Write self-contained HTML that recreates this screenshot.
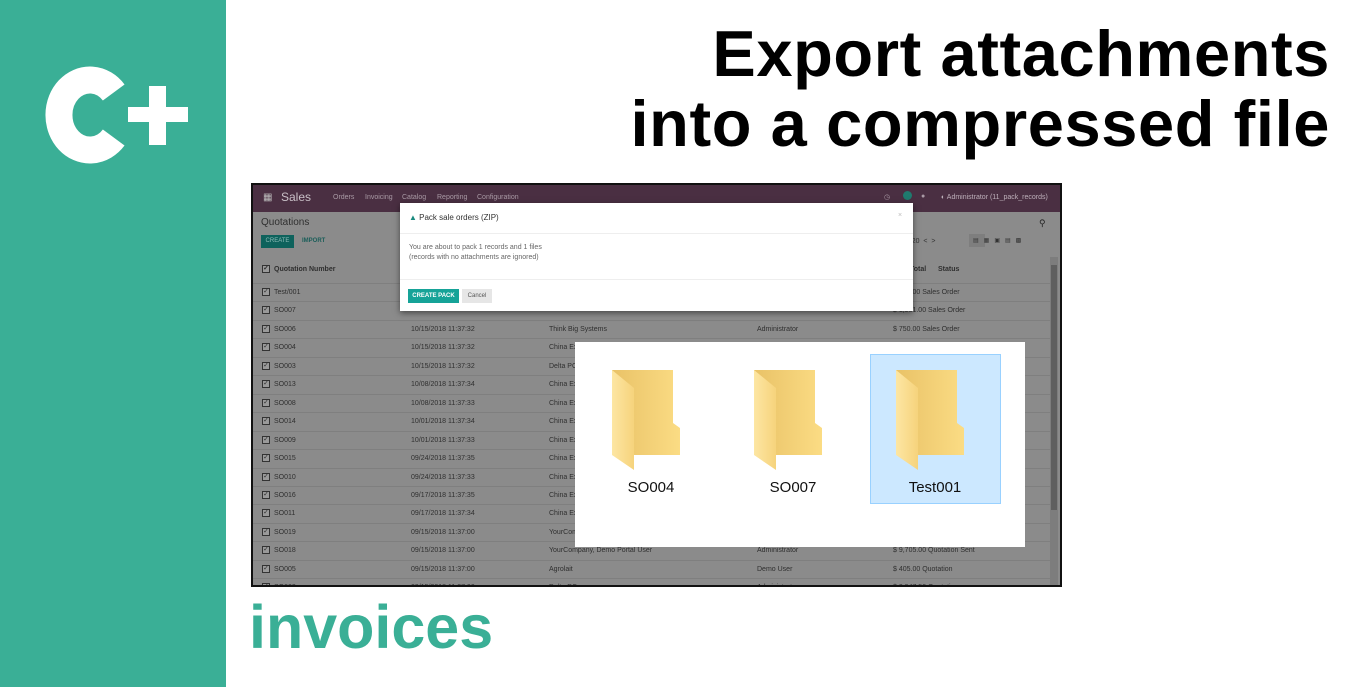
<!DOCTYPE html>
<html><head><meta charset="utf-8"><style>
*{margin:0;padding:0;box-sizing:border-box}
body{width:1360px;height:687px;background:#fff;position:relative;overflow:hidden;font-family:"Liberation Sans",sans-serif}
.side{position:absolute;left:0;top:0;width:226px;height:687px;background:#3aaf96}
.abs{position:absolute}
.title{position:absolute;right:30px;text-align:right;font-weight:bold;font-size:65px;color:#000;white-space:nowrap;letter-spacing:0.6px}
.shot{position:absolute;left:251px;top:183px;width:811px;height:404px;border:2px solid #111;background:#8b8b8b;overflow:hidden}
.nav{position:absolute;left:0;top:0;width:100%;height:27px;background:#4a2f42;color:#a99aa5;font-size:7px}
.row{position:absolute;left:0;width:800px;height:18.5px;border-top:1px solid #7f7f7f;font-size:7px;color:#2f2f2f}
.row span{position:absolute;top:5px;white-space:nowrap}
.cb{position:absolute;left:9px;top:4px;width:8px;height:8px;border:1px solid #333;background:#9a9a9a;font-size:7px;line-height:6px;text-align:center}
.modal{position:absolute;left:147px;top:18px;width:513px;height:108px;background:#fff;box-shadow:0 2px 6px rgba(0,0,0,.5);font-size:7px;color:#666}
.panel{position:absolute;left:575px;top:342px;width:450px;height:205px;background:#fff}
.lbl{position:absolute;font-size:15px;color:#111;width:130px;text-align:center}
</style></head><body>
<div class="side"></div>
<svg class="abs" style="left:0;top:0" width="226" height="200">
 <path d="M113.7 92.5 A31 35 0 1 0 113.7 137.5" fill="none" stroke="#fff" stroke-width="27"/>
 <rect x="128" y="107" width="60" height="15" fill="#fff"/>
 <rect x="149" y="86" width="17" height="59" fill="#fff"/>
</svg>

<div class="title" style="top:19px;line-height:70px">Export attachments</div>
<div class="title" style="top:89px;line-height:70px">into a compressed file</div>
<div class="abs" style="left:249px;top:590px;font-weight:bold;font-size:61px;line-height:74px;color:#3aaf96">invoices</div>

<div class="shot">
 <div class="nav">
  <span class="abs" style="left:10px;top:7px;font-size:10px;color:#bbb">&#9638;</span>
  <span class="abs" style="left:28px;top:5px;font-size:12px;color:#c9c0c7">Sales</span>
  <span class="abs" style="left:80px;top:9px">Orders</span>
  <span class="abs" style="left:112px;top:9px">Invoicing</span>
  <span class="abs" style="left:149px;top:9px">Catalog</span>
  <span class="abs" style="left:184px;top:9px">Reporting</span>
  <span class="abs" style="left:224px;top:9px">Configuration</span>
  <span class="abs" style="left:631px;top:8px">&#9719;</span>
  <span class="abs" style="left:650px;top:6px;width:9px;height:9px;border-radius:50%;background:#1f7a6e"></span>
  <span class="abs" style="left:668px;top:8px">&#9679;</span>
  <span class="abs" style="left:688px;top:9px;color:#bdb0ba">&#9680; Administrator (11_pack_records)</span>
 </div>
 <span class="abs" style="left:8px;top:32px;font-size:10px;color:#2f2f2f">Quotations</span>
 <span class="abs" style="left:8px;top:50px;width:33px;height:13px;background:#0e625c;color:#8fbcb7;font-size:6px;line-height:13px;text-align:center">CREATE</span>
 <span class="abs" style="left:49px;top:53px;font-size:6px;color:#1b5e59;font-weight:bold">IMPORT</span>
 <span class="abs" style="left:786px;top:33px;font-size:9px;color:#222">&#9906;</span>
 <span class="abs" style="left:649px;top:53px;font-size:7px;color:#333">0 / 20 &nbsp;&lt; &nbsp;&gt;</span>
 <span class="abs" style="left:716px;top:49px;width:16px;height:13px;background:#7e7e7e"></span>
 <span class="abs" style="left:720px;top:52px;font-size:6px;color:#333">&#9636; &nbsp; &#9638; &nbsp; &#9635; &nbsp; &#9636; &nbsp; &#9641;</span>
 <div class="row" style="top:72px;border-top:none;height:26px;font-weight:bold"><div class="cb" style="top:8px">&#10003;</div><span style="left:21px;top:9px">Quotation Number</span><span style="left:657px;top:9px">Total</span><span style="left:685px;top:9px">Status</span></div>
 <div id="rows"></div>
 <div class="abs" style="left:797px;top:72px;width:8px;height:330px;background:#7d7d7d"></div>
 <div class="abs" style="left:798px;top:80px;width:6px;height:245px;background:#5f5f5f"></div>
 <div class="modal">
  <span class="abs" style="left:9px;top:10px;font-size:8px;color:#333"><span style="color:#1a8a7f">&#9650;</span> Pack sale orders (ZIP)</span>
  <span class="abs" style="left:498px;top:9px;color:#bbb">×</span>
  <div class="abs" style="left:0;top:30px;width:100%;border-top:1px solid #eee"></div>
  <span class="abs" style="left:9px;top:41px">You are about to pack 1 records and 1 files</span>
  <span class="abs" style="left:9px;top:51px">(records with no attachments are ignored)</span>
  <div class="abs" style="left:0;top:76px;width:100%;border-top:1px solid #eee"></div>
  <span class="abs" style="left:8px;top:86px;width:51px;height:14px;background:#16a398;color:#fff;font-size:6px;font-weight:bold;line-height:14px;text-align:center">CREATE PACK</span>
  <span class="abs" style="left:62px;top:86px;width:30px;height:14px;background:#e6e6e6;color:#555;font-size:6px;line-height:14px;text-align:center">Cancel</span>
 </div>
</div>

<div class="panel">
 <div class="abs" style="left:295px;top:12px;width:131px;height:150px;background:#cce8ff;border:1px solid #99d1ff"></div>
</div>
<svg class="abs" style="left:0;top:0" width="1360" height="687">
 <defs>
  <linearGradient id="bk" x1="0" x2="1"><stop offset="0" stop-color="#e9c267"/><stop offset="1" stop-color="#fbdc84"/></linearGradient>
  <linearGradient id="fr" x1="0" x2="1"><stop offset="0" stop-color="#fde6a3"/><stop offset="1" stop-color="#f6d37c"/></linearGradient>
  <g id="f">
   <path d="M0 0 H61 V53 L68 58 V85 H22 Z" fill="url(#bk)"/>
   <path d="M0 0 L22 18 V100 L0 85 Z" fill="url(#fr)"/>
  </g>
 </defs>
 <use href="#f" x="612" y="370"/>
 <use href="#f" x="754" y="370"/>
 <use href="#f" x="896" y="370"/>
</svg>
<div class="lbl" style="left:586px;top:479px">SO004</div>
<div class="lbl" style="left:728px;top:479px">SO007</div>
<div class="lbl" style="left:870px;top:479px">Test001</div>

<script>
var d=[["Test/001","","","","$ 315.00 Sales Order"],["SO007","","","","$ 1,981.00 Sales Order"],["SO006","10/15/2018 11:37:32","Think Big Systems","Administrator","$ 750.00 Sales Order"],["SO004","10/15/2018 11:37:32","China Export","",""],["SO003","10/15/2018 11:37:32","Delta PC","",""],["SO013","10/08/2018 11:37:34","China Export","",""],["SO008","10/08/2018 11:37:33","China Export","",""],["SO014","10/01/2018 11:37:34","China Export","",""],["SO009","10/01/2018 11:37:33","China Export","",""],["SO015","09/24/2018 11:37:35","China Export","",""],["SO010","09/24/2018 11:37:33","China Export","",""],["SO016","09/17/2018 11:37:35","China Export","",""],["SO011","09/17/2018 11:37:34","China Export","",""],["SO019","09/15/2018 11:37:00","YourCompany","",""],["SO018","09/15/2018 11:37:00","YourCompany, Demo Portal User","Administrator","$ 9,705.00 Quotation Sent"],["SO005","09/15/2018 11:37:00","Agrolait","Demo User","$ 405.00 Quotation"],["SO002","09/15/2018 11:37:00","Delta PC","Administrator","$ 2,947.50 Quotation"]];
var h="";d.forEach(function(r,i){var t=98+i*18.45;h+='<div class="row" style="top:'+t+'px"><div class="cb">&#10003;</div><span style="left:21px">'+r[0]+'</span><span style="left:158px">'+r[1]+'</span><span style="left:296px">'+r[2]+'</span><span style="left:504px">'+r[3]+'</span><span style="left:640px">'+r[4]+'</span></div>';});
document.getElementById("rows").outerHTML=h;
</script>
</body></html>
